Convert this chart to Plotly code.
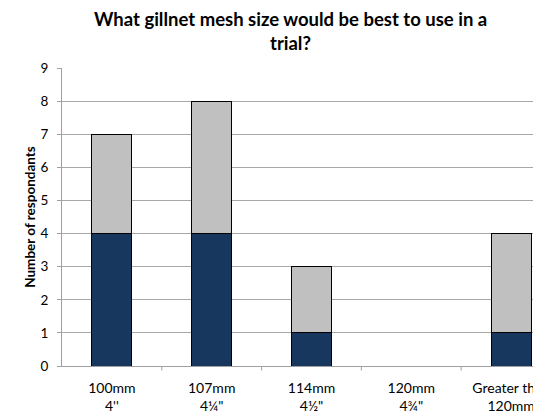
import plotly.graph_objects as go

categories = ["100mm<br>4''", "107mm<br>4\u00bc\"", "114mm<br>4\u00bd\"", "120mm<br>4\u00be\"", "Greater than<br>120mm"]
series_dark = [4, 4, 1, 0, 1]
series_light = [3, 4, 2, 0, 3]
y_ticks = list(range(0, 10))
title_lines = ["What gillnet mesh size would be best to use in a", "trial?"]
y_title = "Number of respondants"

FONT = "Lato"

fig = go.Figure()
fig.add_trace(go.Bar(x=list(range(len(categories))), y=series_dark, marker=dict(color="#17375e", line=dict(color="#000000", width=1)),
                     showlegend=False))
fig.add_trace(go.Bar(x=list(range(len(categories))), y=series_light, marker=dict(color="#c0c0c0", line=dict(color="#000000", width=1)),
                     showlegend=False))

fig.update_layout(
    width=541, height=413,
    margin=dict(l=54, r=0, t=60, b=55, autoexpand=False),
    barmode="stack", bargap=0.6,
    plot_bgcolor="white", paper_bgcolor="white",
    font=dict(family=FONT, size=13, color="#000000"),
    xaxis=dict(
        tickmode="array", tickvals=list(range(len(categories))), ticktext=categories,
        range=[-0.5, 4.38], showgrid=False, showline=True, linecolor="#a0a0a0", linewidth=1,
        ticks="", tickfont=dict(size=14), ticklabelstandoff=9, zeroline=False,
        ticklabeloverflow="allow", automargin=False,
    ),
    yaxis=dict(
        range=[0, 9], tickvals=y_ticks, showgrid=True, gridcolor="#a8a8a8", gridwidth=1,
        showline=True, linecolor="#a0a0a0", linewidth=1, ticks="outside", ticklen=4, tickcolor="#a0a0a0",
        tickfont=dict(size=13.5), ticklabelstandoff=6, zeroline=False, automargin=False,
        title=dict(text="<b>" + y_title + "</b>", font=dict(size=13.5), standoff=1),
    ),
)

# boundary tick marks on x axis
for b in [0.5, 1.5, 2.5, 3.5]:
    fig.add_shape(type="line", xref="x", yref="paper", x0=b, x1=b, y0=0, y1=-0.015,
                  line=dict(color="#a0a0a0", width=1))

fig.add_annotation(text="<b>" + title_lines[0] + "</b>", xref="paper", yref="paper", x=(290 - 62) / 487, y=(366 - 19) / 298,
                   xanchor="center", yanchor="middle", showarrow=False, font=dict(size=18.5))
fig.add_annotation(text="<b>" + title_lines[1] + "</b>", xref="paper", yref="paper", x=(290 - 62) / 487, y=(366 - 43) / 298,
                   xanchor="center", yanchor="middle", showarrow=False, font=dict(size=18.5))

fig.write_html("out.html")
